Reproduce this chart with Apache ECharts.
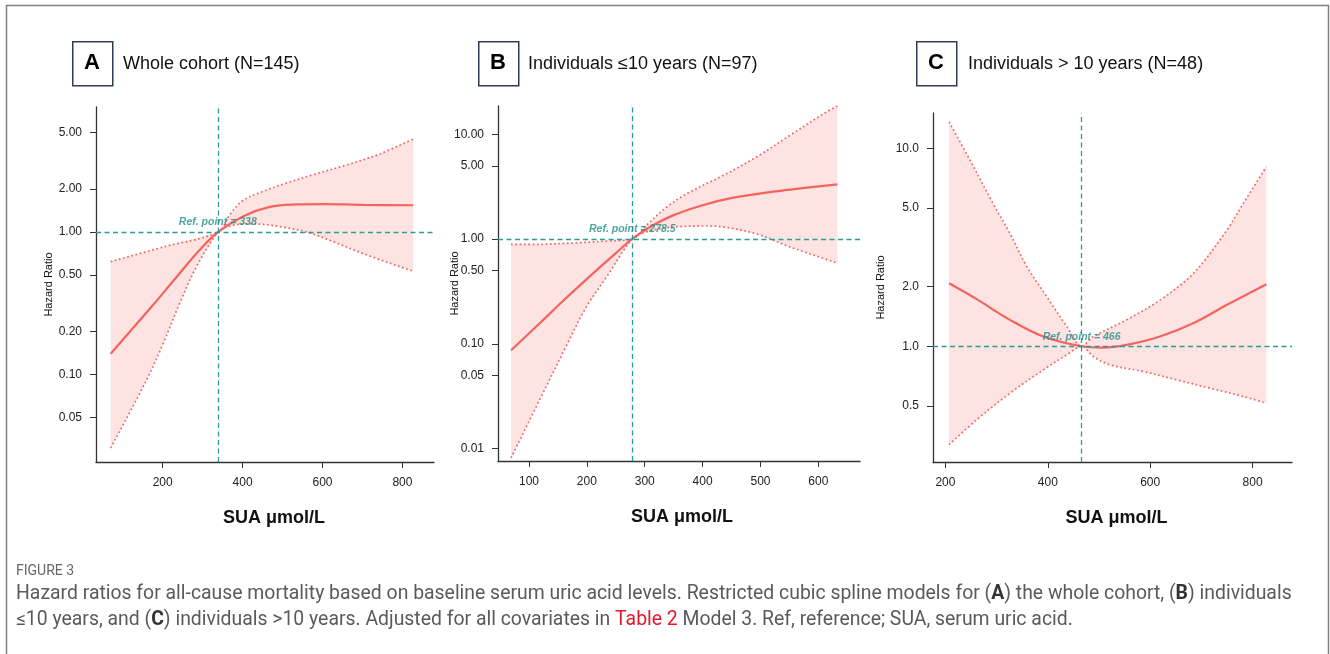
<!DOCTYPE html>
<html>
<head>
<meta charset="utf-8">
<script src="https://cdn.jsdelivr.net/npm/echarts@6/dist/echarts.min.js"></script>
<style>
html, body { margin: 0; padding: 0; background: #fff; }
#chart { width: 1330px; height: 654px; }
</style>
</head>
<body>
<div id="chart"></div>
<script>
// panel A: whole cohort, [SUA, HR]
const hrA = [[70, 0.140], [118, 0.200], [177, 0.31], [239, 0.50], [293, 0.75], [339, 1.00], [402, 1.29], [468, 1.50], [535, 1.56], [602, 1.57], [702, 1.55], [827, 1.54]];
const upperA = [[70, 0.62], [202, 0.785], [339, 1.0], [368, 1.32], [402, 1.67], [452, 1.93], [502, 2.17], [577, 2.52], [660, 2.95], [743, 3.52], [827, 4.49]];
const lowerA = [[70, 0.0306], [160, 0.092], [202, 0.167], [243, 0.318], [285, 0.574], [339, 1.0], [368, 1.10], [410, 1.14], [452, 1.13], [502, 1.08], [560, 1.00], [618, 0.875], [702, 0.705], [827, 0.53]];

// panel B: <=10 years
const hrB = [[69, 0.0867], [118, 0.156], [165, 0.276], [216, 0.499], [251, 0.741], [278.5, 1.00], [309, 1.30], [349, 1.68], [400, 2.10], [453, 2.48], [522, 2.83], [580, 3.09], [633, 3.32]];
const upperB = [[69, 0.89], [118, 0.89], [176, 0.916], [234, 0.957], [278.5, 1.0], [303, 1.35], [338, 2.02], [378, 2.81], [436, 4.05], [493, 6.06], [551, 9.75], [609, 15.7], [633, 18.6]];
const lowerB = [[69, 0.00815], [118, 0.0289], [165, 0.0968], [199, 0.2246], [234, 0.434], [278.5, 1.0], [303, 1.17], [349, 1.30], [407, 1.33], [436, 1.30], [493, 1.12], [551, 0.839], [633, 0.59]];

// panel C: >10 years
const hrC = [[207, 2.08], [261, 1.73], [326, 1.36], [391, 1.12], [466, 1.00], [508, 0.985], [554, 1.016], [619, 1.12], [685, 1.31], [750, 1.62], [827, 2.06]];
const upperC = [[207, 13.6], [248, 8.73], [293, 5.27], [326, 3.72], [359, 2.53], [398, 1.78], [437, 1.26], [466, 1.0], [489, 1.12], [554, 1.36], [619, 1.71], [685, 2.34], [750, 3.87], [782, 5.28], [827, 8.08]];
const lowerC = [[207, 0.318], [261, 0.425], [326, 0.579], [391, 0.759], [437, 0.904], [466, 1.0], [489, 0.887], [522, 0.805], [587, 0.745], [652, 0.676], [717, 0.614], [782, 0.557], [827, 0.515]];

const refs = [338, 278.5, 466];
const refLabels = ['Ref. point = 338', 'Ref. point = 278.5', 'Ref. point = 466'];
const yTicksA = [0.05, 0.1, 0.2, 0.5, 1, 2, 5];
const yTicksB = [0.01, 0.05, 0.1, 0.5, 1, 5, 10];
const yTicksC = [0.5, 1, 2, 5, 10];
const xTicksA = [200, 400, 600, 800];
const xTicksB = [100, 200, 300, 400, 500, 600];
const xTicksC = [200, 400, 600, 800];
const titles = ['Whole cohort (N=145)', 'Individuals \u226410 years (N=97)', 'Individuals > 10 years (N=48)'];
const letters = ['A', 'B', 'C'];

const FONT = '"Liberation Sans", Arial, sans-serif';
const RED = '#f4645f';
const TEAL = '#1f8f89';

const lg = p => [p[0], Math.log10(p[1])];

const panels = [
    { hr: hrA, up: upperA, lo: lowerA, yt: yTicksA, xt: xTicksA, dec: 2,
      grid: { left: 96, top: 107, width: 338, height: 355 }, x: [33.25, 879], y: [0.0244, 7.52], nameGap: 42, xPad: 18 },
    { hr: hrB, up: upperB, lo: lowerB, yt: yTicksB, xt: xTicksB, dec: 2,
      grid: { left: 498, top: 106, width: 362, height: 355 }, x: [46.4, 672], y: [0.0076, 18.6], nameGap: 38, xPad: 6 },
    { hr: hrC, up: upperC, lo: lowerC, yt: yTicksC, xt: xTicksC, dec: 1,
      grid: { left: 933, top: 113, width: 359, height: 349 }, x: [175.7, 877], y: [0.26, 15.1], nameGap: 47, xPad: 8 },
];

const grid = [], xAxis = [], yAxis = [], series = [];
panels.forEach((p, i) => {
    grid.push(p.grid);
    xAxis.push({
        type: 'value', gridIndex: i, min: p.x[0], max: p.x[1],
        name: 'SUA \u03bcmol/L', nameLocation: 'middle', nameGap: 47, nameMoveOverlap: false,
        nameTextStyle: { fontFamily: FONT, fontSize: 18, fontWeight: 'bold', color: '#111', padding: [0, 0, 0, p.xPad] },
        axisLine: { show: true, onZero: false, lineStyle: { color: '#333', width: 1.3 } },
        axisTick: { show: true, length: 6, customValues: p.xt, lineStyle: { color: '#333' } },
        axisLabel: { customValues: p.xt, fontFamily: FONT, fontSize: 12, color: '#222', margin: 15 },
        splitLine: { show: false },
    });
    yAxis.push({
        type: 'value', gridIndex: i, min: Math.log10(p.y[0]), max: Math.log10(p.y[1]),
        name: 'Hazard Ratio', nameLocation: 'middle', nameRotate: 90, nameGap: p.nameGap,
        nameMoveOverlap: false,
        nameTextStyle: { fontFamily: FONT, fontSize: 11, color: '#111' },
        axisLine: { show: true, onZero: false, lineStyle: { color: '#333', width: 1.3 } },
        axisTick: { show: true, length: 6, customValues: p.yt.map(Math.log10), lineStyle: { color: '#333' } },
        axisLabel: {
            customValues: p.yt.map(Math.log10), fontFamily: FONT, fontSize: 12, color: '#222', margin: 14,
            formatter: v => Math.pow(10, v).toFixed(p.dec),
        },
        splitLine: { show: false },
    });
    const band = p.up.map(lg).concat(p.lo.slice().reverse().map(lg));
    series.push({
        type: 'custom', xAxisIndex: i, yAxisIndex: i, silent: true, z: 1,
        data: [[refs[i], 0]],
        renderItem: (params, api) => ({
            type: 'polygon',
            shape: { points: band.map(q => api.coord(q)) },
            style: { fill: '#fde3e1' },
        }),
    });
    [p.up, p.lo].forEach(ci => series.push({
        type: 'line', xAxisIndex: i, yAxisIndex: i, data: ci.map(lg), z: 2,
        showSymbol: false, smooth: 0.35, silent: true,
        lineStyle: { color: RED, width: 1.7, type: [1.7, 2.6] },
    }));
    series.push({
        type: 'line', xAxisIndex: i, yAxisIndex: i, data: p.hr.map(lg), z: 4,
        showSymbol: false, smooth: 0.35, silent: true,
        lineStyle: { color: RED, width: 2.2 },
    });
    series.push({
        type: 'scatter', xAxisIndex: i, yAxisIndex: i, data: [[refs[i], 0]], z: 5,
        symbolSize: 0, silent: true,
        label: {
            show: true, position: 'top', distance: 4, formatter: refLabels[i],
            fontFamily: FONT, fontSize: 10.5, fontStyle: 'italic', fontWeight: 'bold', color: TEAL,
        },
        markLine: {
            silent: true, symbol: 'none', label: { show: false },
            lineStyle: { color: '#2a9c96', width: 1.3, type: [5, 3.5] },
            data: [{ xAxis: refs[i] }, { yAxis: 0 }],
        },
    });
});

// panel headers
const boxX = [72, 478, 916];
const textX = [123, 528, 968];
const graphic = [];
letters.forEach((L, i) => {
    graphic.push({ type: 'rect', left: boxX[i], top: 41, shape: { width: 40, height: 44 },
        style: { fill: '#fff', stroke: '#2d3a58', lineWidth: 1.5 } });
    graphic.push({ type: 'text', x: boxX[i] + 20, y: 63,
        style: { text: L, font: 'bold 22px ' + FONT, fill: '#000', align: 'center', verticalAlign: 'middle' } });
    graphic.push({ type: 'text', x: textX[i], y: 64,
        style: { text: titles[i], font: '18px ' + FONT, fill: '#111', verticalAlign: 'middle' } });
});

// frame
graphic.push({ type: 'polyline', shape: { points: [[6.5, 654], [6.5, 5.5], [1328.5, 5.5], [1328.5, 654]] },
    style: { stroke: '#808080', lineWidth: 1.5, fill: null } });

// caption
const CAP = 'Roboto, sans-serif';
graphic.push({ type: 'text', x: 16, y: 571,
    style: { text: 'FIGURE 3', font: '14px ' + CAP, fill: '#666', verticalAlign: 'middle' } });
const capRich = {
    n: { fontFamily: CAP, fontSize: 19.4, fill: '#5a5a5a' },
    b: { fontFamily: CAP, fontSize: 19.4, fill: '#333', fontWeight: 'bold' },
    r: { fontFamily: CAP, fontSize: 19.4, fill: '#e0182d' },
};
graphic.push({ type: 'text', x: 16, y: 594,
    style: { text: '{n|Hazard ratios for all-cause mortality based on baseline serum uric acid levels. Restricted cubic spline models for (}{b|A}{n|) the whole cohort, (}{b|B}{n|) individuals}',
        rich: capRich, verticalAlign: 'middle' } });
graphic.push({ type: 'text', x: 16, y: 620,
    style: { text: '{n|\u226410 years, and (}{b|C}{n|) individuals >10 years. Adjusted for all covariates in }{r|Table 2}{n| Model 3. Ref, reference; SUA, serum uric acid.}',
        rich: capRich, verticalAlign: 'middle' } });

const myChart = echarts.init(document.getElementById('chart'));
myChart.setOption({
    animation: false,
    backgroundColor: '#fff',
    grid, xAxis, yAxis, series, graphic,
});
</script>
</body>
</html>
